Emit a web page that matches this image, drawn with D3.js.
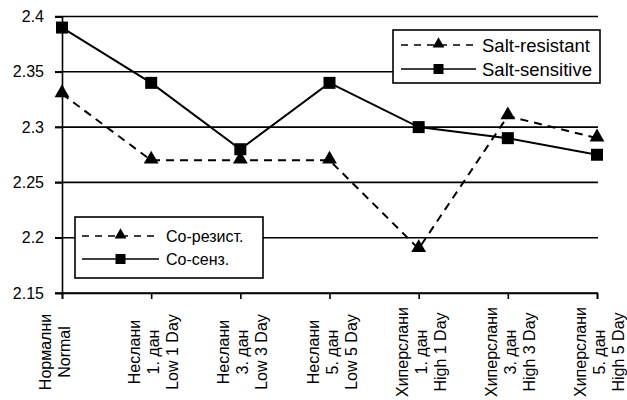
<!DOCTYPE html>
<html>
<head>
<meta charset="utf-8">
<script src="https://cdn.jsdelivr.net/npm/d3@7"></script>
<style>
  html, body { margin: 0; padding: 0; background: #fff; }
  svg { display: block; font-family: "Liberation Sans", Arial, sans-serif; }
</style>
</head>
<body>
<svg id="chart" width="627" height="400"></svg>
<script>
// ---- data ----
const categories = ["Normal", "Low 1 Day", "Low 3 Day", "Low 5 Day", "High 1 Day", "High 3 Day", "High 5 Day"];
const labelsBg   = ["Нормални", "Неслани", "Неслани", "Неслани", "Хиперслани", "Хиперслани", "Хиперслани"];
const labelsDay  = ["", "1. дан", "3. дан", "5. дан", "1. дан", "3. дан", "5. дан"];
const labelsEn   = ["Normal", "Low 1 Day", "Low 3 Day", "Low 5 Day", "High 1 Day", "High 3 Day", "High 5 Day"];
const saltResistant = [2.33, 2.27, 2.27, 2.27, 2.19, 2.31, 2.29];
const saltSensitive = [2.39, 2.34, 2.28, 2.34, 2.30, 2.29, 2.275];
const yTicks = [2.15, 2.2, 2.25, 2.3, 2.35, 2.4];
const yTickLabels = ["2.15", "2.2", "2.25", "2.3", "2.35", "2.4"];
const legendEn = ["Salt-resistant", "Salt-sensitive"];
const legendBg = ["Со-резист.", "Со-сенз."];

// ---- layout ----
const svg = d3.select("#chart");
const mLeft = 62, mRight = 597, mTop = 16.5, mBottom = 293;

const x = d3.scalePoint().domain(categories).range([mLeft, mRight]).padding(0);
const y = d3.scaleLinear().domain([2.15, 2.4]).range([mBottom, mTop]);

// gridlines
svg.append("g").selectAll("line").data(yTicks).join("line")
  .attr("x1", mLeft - 7).attr("x2", mRight + 1)
  .attr("y1", d => y(d)).attr("y2", d => y(d))
  .attr("stroke", "#000").attr("stroke-width", 1.6);

// y axis
const yAxis = d3.axisLeft(y).tickValues(yTicks)
  .tickFormat((d, i) => yTickLabels[i]).tickSize(7).tickPadding(11);
const gy = svg.append("g").attr("transform", `translate(${mLeft},0)`).call(yAxis);
gy.select(".domain").attr("stroke", "#000").attr("stroke-width", 1.6);
gy.selectAll(".tick line").attr("stroke", "#000").attr("stroke-width", 1.6);
gy.selectAll(".tick text").attr("font-size", 16).attr("fill", "#000")
  .attr("font-family", "Liberation Sans, Arial, sans-serif");

// x axis
const xAxis = d3.axisBottom(x).tickSize(6).tickFormat("");
const gx = svg.append("g").attr("transform", `translate(0,${mBottom})`).call(xAxis);
gx.select(".domain").attr("stroke", "#000").attr("stroke-width", 1.6);
gx.selectAll(".tick line").attr("stroke", "#000").attr("stroke-width", 1.6);

// x labels (rotated, multi-line)
const lineH = 19;
const labelG = svg.append("g");
categories.forEach((c, i) => {
  const lines = [labelsBg[i], labelsDay[i], labelsEn[i]].filter(s => s !== "");
  const shift = lines.length === 2 ? -8 : 2;
  const g = labelG.append("g").attr("transform", `translate(${x(c) + shift},${352}) rotate(-90)`);
  lines.forEach((t, k) => {
    g.append("text")
      .attr("x", 0)
      .attr("y", (k - (lines.length - 1) / 2) * lineH + 6)
      .attr("text-anchor", "middle")
      .attr("font-size", 16)
      .attr("fill", "#000")
      .text(t);
  });
});

// lines
const lineGen = d3.line().x((d, i) => x(categories[i])).y(d => y(d));
svg.append("path").datum(saltResistant)
  .attr("d", lineGen).attr("fill", "none").attr("stroke", "#000")
  .attr("stroke-width", 2).attr("stroke-dasharray", "8,6");
svg.append("path").datum(saltSensitive)
  .attr("d", lineGen).attr("fill", "none").attr("stroke", "#000")
  .attr("stroke-width", 2);

const tri = d3.symbol().type(d3.symbolTriangle).size(95);
const sq = d3.symbol().type(d3.symbolSquare).size(144);

svg.append("g").selectAll("path").data(saltResistant).join("path")
  .attr("d", tri)
  .attr("transform", (d, i) => `translate(${x(categories[i])},${y(d) - 1})`)
  .attr("fill", "#000");
svg.append("g").selectAll("path").data(saltSensitive).join("path")
  .attr("d", sq)
  .attr("transform", (d, i) => `translate(${x(categories[i])},${y(d)})`)
  .attr("fill", "#000");

// legends
function legend(x0, y0, w, h, rows, fontSize, lineX1, lineX2, textX) {
  const g = svg.append("g");
  g.append("rect").attr("x", x0).attr("y", y0).attr("width", w).attr("height", h)
    .attr("fill", "#fff").attr("stroke", "#000").attr("stroke-width", 1.6);
  rows.forEach((r, k) => {
    const ry = r.y;
    g.append("line").attr("x1", lineX1).attr("x2", lineX2).attr("y1", ry).attr("y2", ry)
      .attr("stroke", "#000").attr("stroke-width", 1.6)
      .attr("stroke-dasharray", r.dashed ? "7,6" : null);
    const mx = (lineX1 + lineX2) / 2;
    g.append("path").attr("d", r.dashed ? d3.symbol().type(d3.symbolTriangle).size(60)() : d3.symbol().type(d3.symbolSquare).size(100)())
      .attr("transform", `translate(${mx},${ry - (r.dashed ? 1 : 0)})`).attr("fill", "#000");
    g.append("text").attr("x", textX).attr("y", ry).attr("dy", "0.36em")
      .attr("font-size", fontSize).attr("fill", "#000").text(r.label);
  });
}
legend(393, 30, 207, 53, [
  { y: 45, label: legendEn[0], dashed: true },
  { y: 69, label: legendEn[1], dashed: false }
], 18.5, 401, 476, 482);
legend(75, 217, 188, 61, [
  { y: 236, label: legendBg[0], dashed: true },
  { y: 259, label: legendBg[1], dashed: false }
], 16, 82, 159, 166);
</script>
</body>
</html>
